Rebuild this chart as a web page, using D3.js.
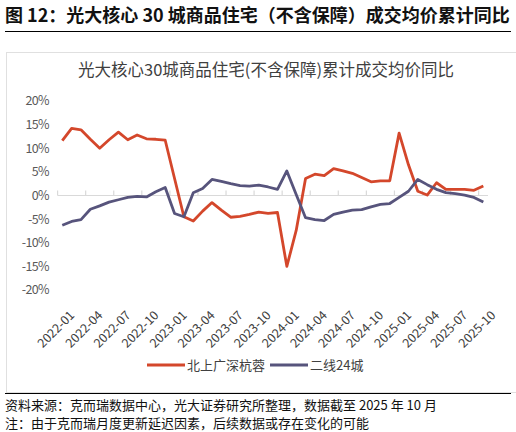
<!DOCTYPE html>
<html>
<head>
<meta charset="utf-8">
<script src="https://cdn.jsdelivr.net/npm/d3@7"></script>
<style>
  body { margin: 0; background: #fff; }
  text { font-family: "Noto Sans CJK SC", "Noto Sans", sans-serif; }
</style>
</head>
<body>
<svg width="516" height="432"></svg>
<script>
// months on the x axis
const months = [
  "2022-01","2022-02","2022-03","2022-04","2022-05","2022-06","2022-07","2022-08","2022-09","2022-10","2022-11","2022-12",
  "2023-01","2023-02","2023-03","2023-04","2023-05","2023-06","2023-07","2023-08","2023-09","2023-10","2023-11","2023-12",
  "2024-01","2024-02","2024-03","2024-04","2024-05","2024-06","2024-07","2024-08","2024-09","2024-10","2024-11","2024-12",
  "2025-01","2025-02","2025-03","2025-04","2025-05","2025-06","2025-07","2025-08","2025-09","2025-10"
];
// 北上广深杭蓉, %
const tier1 = [
  11.6, 14.2, 13.9, 11.9, 10.0, 11.8, 13.4, 11.8, 12.8, 12.0, 11.9, 11.7,
  3.6, -4.5, -5.4, -3.3, -1.5, -3.1, -4.6, -4.4, -4.0, -3.5, -3.8, -3.6,
  -15.0, -7.4, 3.6, 4.5, 4.2, 5.7, 5.2, 4.7, 3.8, 2.9, 3.1, 3.1,
  13.2, 6.5, 0.9, 0.1, 2.7, 1.3, 1.3, 1.3, 1.1, 2.0
];
// 二线24城, %
const tier2 = [
  -6.3, -5.5, -5.1, -2.9, -2.2, -1.4, -0.9, -0.4, -0.2, -0.3, 0.8, 1.7,
  -3.8, -4.5, 0.6, 1.5, 3.4, 3.0, 2.5, 2.1, 2.0, 2.2, 1.8, 1.3,
  5.2, 0.2, -4.7, -5.1, -5.3, -4.0, -3.5, -3.1, -3.0, -2.4, -1.9, -1.7,
  -0.4, 0.9, 3.4, 2.3, 1.3, 0.6, 0.4, 0.1, -0.4, -1.4
];
const yTicks = [20, 15, 10, 5, 0, -5, -10, -15, -20];
const seriesNames = ["北上广深杭蓉", "二线24城"];
const colors = ["#d4472b", "#57547c"];

const svg = d3.select("svg");

// header
svg.append("text")
  .attr("x", 5).attr("y", 22)
  .attr("font-size", 18).attr("font-weight", "bold").attr("fill", "#111")
  .text("图 12：光大核心 30 城商品住宅（不含保障）成交均价累计同比");
svg.append("line")
  .attr("x1", 5).attr("x2", 511).attr("y1", 31.5).attr("y2", 31.5)
  .attr("stroke", "#000").attr("stroke-width", 1.2);

// chart frame
svg.append("rect")
  .attr("x", 6.5).attr("y", 52.5).attr("width", 520).attr("height", 340)
  .attr("fill", "none").attr("stroke", "#e0e0e0");

svg.append("text")
  .attr("x", 266).attr("y", 76)
  .attr("text-anchor", "middle")
  .attr("font-size", 16.5).attr("fill", "#404040")
  .text("光大核心30城商品住宅(不含保障)累计成交均价同比");

const x = d3.scaleBand().domain(months).range([57.6, 488]);
const y = d3.scaleLinear().domain([-20, 20]).range([290, 101]);

// y labels
svg.append("g")
  .selectAll("text")
  .data(yTicks)
  .join("text")
  .attr("x", 49).attr("y", d => y(d))
  .attr("dy", "0.35em")
  .attr("text-anchor", "end")
  .attr("font-size", 12.5).attr("fill", "#595959")
  .attr("letter-spacing", -0.6)
  .text(d => d + "%");

// x axis at zero
const tickMonths = months.filter((m, i) => i % 3 === 0);
const axis = svg.append("g");
axis.append("line")
  .attr("x1", x.range()[0]).attr("x2", x.range()[1])
  .attr("y1", y(0)).attr("y2", y(0))
  .attr("stroke", "#d9d9d9").attr("stroke-width", 1.2);
axis.selectAll("line.tick")
  .data(tickMonths)
  .join("line")
  .attr("class", "tick")
  .attr("x1", d => x(d)).attr("x2", d => x(d))
  .attr("y1", y(0)).attr("y2", y(0) - 5)
  .attr("stroke", "#d9d9d9").attr("stroke-width", 1.2);

// x labels, rotated
svg.append("g")
  .selectAll("text")
  .data(tickMonths)
  .join("text")
  .attr("transform", d => "translate(" + (x(d) + x.bandwidth() / 2 + 13) + ",316) rotate(-45)")
  .attr("text-anchor", "end")
  .attr("font-size", 12.5).attr("fill", "#404040")
  .text(d => d);

// lines
const line = d3.line()
  .x((d, i) => x(months[i]) + x.bandwidth() / 2)
  .y(d => y(d));

[tier1, tier2].forEach((s, k) => {
  svg.append("path")
    .datum(s)
    .attr("fill", "none")
    .attr("stroke", colors[k])
    .attr("stroke-width", 2.8)
    .attr("stroke-linejoin", "round")
    .attr("d", line);
});

// legend
const legendX = [147, 270];
const legend = svg.append("g");
seriesNames.forEach((name, k) => {
  legend.append("line")
    .attr("x1", legendX[k]).attr("x2", legendX[k] + 38)
    .attr("y1", 365).attr("y2", 365)
    .attr("stroke", colors[k]).attr("stroke-width", 2.8);
  legend.append("text")
    .attr("x", legendX[k] + 40).attr("y", 365)
    .attr("dy", "0.35em")
    .attr("font-size", 13).attr("fill", "#404040")
    .text(name);
});

// footer
svg.append("line")
  .attr("x1", 5).attr("x2", 511).attr("y1", 393.5).attr("y2", 393.5)
  .attr("stroke", "#000").attr("stroke-width", 1);
svg.append("text")
  .attr("x", 5).attr("y", 410)
  .attr("font-size", 13).attr("fill", "#111")
  .text("资料来源：克而瑞数据中心，光大证券研究所整理，数据截至 2025 年 10 月");
svg.append("text")
  .attr("x", 5).attr("y", 428)
  .attr("font-size", 13).attr("fill", "#111")
  .text("注：由于克而瑞月度更新延迟因素，后续数据或存在变化的可能");
</script>
</body>
</html>
